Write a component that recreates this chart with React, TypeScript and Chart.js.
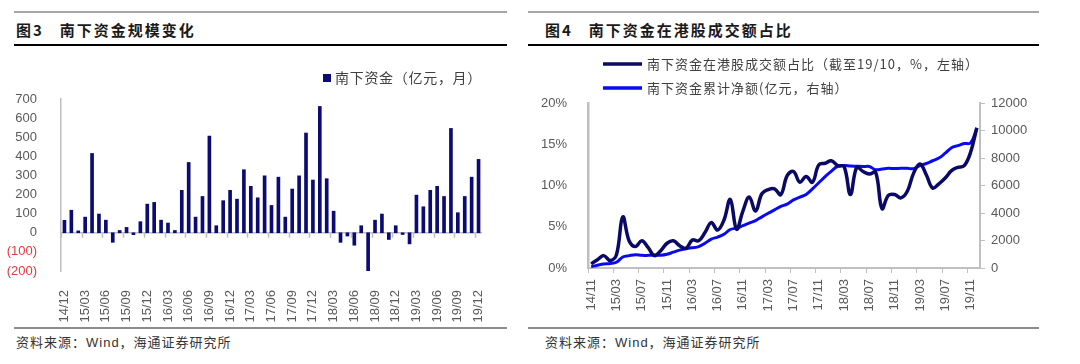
import React, { useEffect, useRef } from 'react';
import { Chart, registerables } from 'chart.js';

Chart.register(...registerables);

// ---------- data: left chart (monthly southbound flow, 亿元) ----------
const flowMonths = [
  '14/12', '15/01', '15/02', '15/03', '15/04', '15/05', '15/06', '15/07', '15/08', '15/09', '15/10', '15/11',
  '15/12', '16/01', '16/02', '16/03', '16/04', '16/05', '16/06', '16/07', '16/08', '16/09', '16/10', '16/11',
  '16/12', '17/01', '17/02', '17/03', '17/04', '17/05', '17/06', '17/07', '17/08', '17/09', '17/10', '17/11',
  '17/12', '18/01', '18/02', '18/03', '18/04', '18/05', '18/06', '18/07', '18/08', '18/09', '18/10', '18/11',
  '18/12', '19/01', '19/02', '19/03', '19/04', '19/05', '19/06', '19/07', '19/08', '19/09', '19/10', '19/11',
  '19/12',
];
const flowValues = [
  65, 118, 10, 82, 415, 98, 66, -50, 12, 28,
  -10, 58, 150, 159, 66, 51, 12, 222, 368, 82,
  190, 506, 37, 168, 222, 176, 330, 243, 183, 298,
  143, 291, 82, 229, 298, 522, 276, 661, 283, 113,
  -50, -17, -65, 37, -205, 66, 98, -35, 37, -9,
  -58, 197, 136, 222, 243, 190, 546, 105, 190, 291, 384,
];
const flowLabel = '南下资金（亿元，月）';

// ---------- data: right chart ----------
const shareMonths = [
  '14/11', '14/12', '15/01', '15/02', '15/03', '15/04', '15/05', '15/06', '15/07', '15/08', '15/09', '15/10',
  '15/11', '15/12', '16/01', '16/02', '16/03', '16/04', '16/05', '16/06', '16/07', '16/08', '16/09', '16/10',
  '16/11', '16/12', '17/01', '17/02', '17/03', '17/04', '17/05', '17/06', '17/07', '17/08', '17/09', '17/10',
  '17/11', '17/12', '18/01', '18/02', '18/03', '18/04', '18/05', '18/06', '18/07', '18/08', '18/09', '18/10',
  '18/11', '18/12', '19/01', '19/02', '19/03', '19/04', '19/05', '19/06', '19/07', '19/08', '19/09', '19/10',
  '19/11', '19/12',
];
// share of HK turnover, %
const shareValues = [
  0.5, 1.0, 1.5, 0.9, 1.6, 6.2, 3.3, 2.6, 3.3, 2.5,
  1.5, 2.1, 3.0, 3.3, 2.7, 2.4, 3.4, 3.3, 4.3, 5.5,
  4.6, 5.8, 8.3, 4.7, 6.9, 8.6, 6.9, 9.0, 9.5, 9.6,
  8.9, 11.2, 11.7, 10.4, 11.1, 10.4, 12.5, 12.7, 13.0, 12.4,
  12.3, 8.9, 12.2, 11.7, 11.4, 11.6, 7.2, 8.8, 8.9, 8.5,
  9.3, 11.5, 12.6, 11.3, 9.7, 10.2, 10.9, 11.8, 12.2, 12.4,
  14.0, 17.0,
];
// cumulative net southbound, 亿元
const cumValues = [
  100, 200, 290, 330, 420, 800, 900, 970, 920, 920,
  940, 930, 1000, 1150, 1300, 1400, 1480, 1550, 1800, 2100,
  2250, 2450, 2800, 2900, 3080, 3270, 3450, 3720, 3980, 4230,
  4480, 4650, 4950, 5150, 5350, 5750, 6200, 6650, 7050, 7400,
  7450, 7420, 7400, 7380, 7380, 7150, 7200, 7250, 7230, 7260,
  7250, 7220, 7450, 7600, 7800, 8000, 8350, 8750, 8900, 9050,
  9100, 10150,
];
const shareLabel = '南下资金在港股成交额占比（截至19/10，%，左轴）';
const cumLabel = '南下资金累计净额(亿元，右轴）';

// ---------- styles ----------
const NAVY = '#0B0B72';
const DARK_LINE = '#0A0A66';
const BLUE_LINE = '#0A0AEE';
const AXIS_GRAY = '#BFBFBF';
const TICK_TEXT = '#595959';
const NEG_RED = '#E2393A';
const LATIN = "'Liberation Sans', Arial, sans-serif";
const CJK = "'Noto Sans CJK SC', 'Noto Sans', sans-serif";

const tickFont = { family: LATIN, size: 13 };

function FlowChart() {
  const ref = useRef<HTMLCanvasElement>(null);
  useEffect(() => {
    const zeroLine = {
      id: 'zeroLine',
      beforeDatasetsDraw(chart: any) {
        const { ctx, chartArea, scales } = chart;
        const x = scales.x;
        const y = scales.y;
        const y0 = y.getPixelForValue(0);
        const w = x.getPixelForValue(1) - x.getPixelForValue(0);
        ctx.save();
        ctx.strokeStyle = AXIS_GRAY;
        ctx.lineWidth = 1.5;
        ctx.beginPath();
        ctx.moveTo(chartArea.left, y0);
        ctx.lineTo(chartArea.right, y0);
        for (let i = 0; i < flowMonths.length; i += 3) {
          const px = Math.round(x.getPixelForValue(i) - w / 2) + 0.5;
          ctx.moveTo(px, y0);
          ctx.lineTo(px, y0 + 5);
        }
        ctx.stroke();
        ctx.restore();
      },
    };
    const legend = {
      id: 'flowLegend',
      afterDraw(chart: any) {
        const { ctx, chartArea } = chart;
        const ds = chart.data.datasets[0];
        ctx.save();
        ctx.font = `14px ${CJK}`;
        (ctx as any).letterSpacing = '0.7px';
        ctx.textBaseline = 'middle';
        ctx.textAlign = 'right';
        const yy = chartArea.top - 21;
        const tx = chartArea.right;
        ctx.fillStyle = '#404040';
        ctx.fillText(ds.label, tx, yy);
        const tw = ctx.measureText(ds.label).width;
        ctx.fillStyle = ds.backgroundColor;
        ctx.fillRect(tx - tw - 12, yy - 4, 8, 8);
        ctx.restore();
      },
    };
    const chart = new Chart(ref.current!, {
      type: 'bar',
      data: {
        labels: flowMonths,
        datasets: [
          {
            label: flowLabel,
            data: flowValues,
            backgroundColor: NAVY,
            barThickness: 3,
          },
        ],
      },
      options: {
        responsive: false,
        animation: false,
        devicePixelRatio: 1,
        layout: { padding: { top: 49, right: 28, left: 0, bottom: 0 } },
        plugins: { legend: { display: false }, tooltip: { enabled: false } },
        scales: {
          x: {
            grid: { display: false },
            border: { display: false },
            ticks: {
              autoSkip: false,
              maxRotation: 90,
              minRotation: 90,
              padding: 11,
              color: TICK_TEXT,
              font: tickFont,
              callback: (_v: any, i: number) => (i % 3 === 0 ? flowMonths[i] : ''),
            },
            afterFit: (s: any) => {
              s.height = 54;
            },
          },
          y: {
            min: -200,
            max: 700,
            grid: { display: false },
            border: { display: true, color: AXIS_GRAY, width: 1.5 },
            ticks: {
              stepSize: 100,
              padding: 16,
              font: tickFont,
              color: (c: any) => (c.tick && c.tick.value < 0 ? NEG_RED : TICK_TEXT),
              callback: (v: any) => (Number(v) < 0 ? `(${-Number(v)})` : `${v}`),
            },
            afterFit: (s: any) => {
              s.width = 61;
            },
          },
        },
      },
      plugins: [zeroLine, legend],
    } as any);
    return () => chart.destroy();
  }, []);
  return (
    <canvas
      ref={ref}
      width={510}
      height={275}
      style={{ position: 'absolute', left: 0, top: 50, width: 510, height: 275 }}
    />
  );
}

function ShareChart() {
  const ref = useRef<HTMLCanvasElement>(null);
  useEffect(() => {
    const legend = {
      id: 'shareLegend',
      afterDraw(chart: any) {
        const { ctx } = chart;
        ctx.save();
        ctx.font = `13px ${CJK}`;
        (ctx as any).letterSpacing = '1px';
        ctx.textBaseline = 'middle';
        ctx.textAlign = 'left';
        chart.data.datasets.forEach((ds: any, i: number) => {
          const yy = 14 + 24 * i;
          ctx.strokeStyle = ds.borderColor;
          ctx.lineWidth = 3.5;
          ctx.beginPath();
          ctx.moveTo(88, yy);
          ctx.lineTo(127, yy);
          ctx.stroke();
          ctx.fillStyle = '#404040';
          ctx.fillText(ds.label, 132, yy);
        });
        ctx.restore();
      },
    };
    const chart = new Chart(ref.current!, {
      type: 'line',
      data: {
        labels: shareMonths,
        datasets: [
          {
            label: shareLabel,
            data: shareValues,
            borderColor: DARK_LINE,
            backgroundColor: DARK_LINE,
            borderWidth: 3.5,
            pointRadius: 0,
            tension: 0.4,
            yAxisID: 'y',
          },
          {
            label: cumLabel,
            data: cumValues,
            borderColor: BLUE_LINE,
            backgroundColor: BLUE_LINE,
            borderWidth: 3,
            pointRadius: 0,
            tension: 0.4,
            yAxisID: 'y1',
          },
        ],
      },
      options: {
        responsive: false,
        animation: false,
        devicePixelRatio: 1,
        layout: { padding: { top: 53, right: 0, left: 0, bottom: 0 } },
        plugins: { legend: { display: false }, tooltip: { enabled: false } },
        scales: {
          x: {
            offset: true,
            grid: {
              display: true,
              offset: true,
              drawOnChartArea: false,
              drawTicks: true,
              tickLength: 5,
              tickColor: (c: any) => (c.index % 4 === 0 ? AXIS_GRAY : 'rgba(0,0,0,0)'),
              color: 'rgba(0,0,0,0)',
            },
            border: { display: true, color: AXIS_GRAY, width: 2 },
            ticks: {
              autoSkip: false,
              maxRotation: 90,
              minRotation: 90,
              padding: 6,
              color: TICK_TEXT,
              font: tickFont,
              callback: (_v: any, i: number) => (i % 4 === 0 ? shareMonths[i] : ''),
            },
            afterFit: (s: any) => {
              s.height = 57;
            },
          },
          y: {
            position: 'left',
            min: 0,
            max: 20,
            grid: { display: false },
            border: { display: true, color: AXIS_GRAY, width: 2.5 },
            ticks: {
              stepSize: 5,
              padding: 13,
              color: TICK_TEXT,
              font: tickFont,
              callback: (v: any) => `${v}%`,
            },
            afterFit: (s: any) => {
              s.width = 73;
            },
          },
          y1: {
            position: 'right',
            min: 0,
            max: 12000,
            grid: {
              display: true,
              drawOnChartArea: false,
              drawTicks: true,
              tickLength: 5,
              color: AXIS_GRAY,
              tickColor: AXIS_GRAY,
            },
            border: { display: true, color: AXIS_GRAY, width: 2 },
            ticks: {
              stepSize: 2000,
              padding: 6,
              color: TICK_TEXT,
              font: tickFont,
              callback: (v: any) => String(v),
            },
            afterFit: (s: any) => {
              s.width = 60;
            },
          },
        },
      },
      plugins: [legend],
    } as any);
    return () => chart.destroy();
  }, []);
  return (
    <canvas
      ref={ref}
      width={525}
      height={275}
      style={{ position: 'absolute', left: 515, top: 50, width: 525, height: 275 }}
    />
  );
}

const hLine = (left: number, width: number, top: number, h: number, color: string) => (
  <div style={{ position: 'absolute', left, top, width, height: h, background: color }} />
);

const titleStyle: React.CSSProperties = {
  position: 'absolute',
  top: 20,
  height: 20,
  lineHeight: '20px',
  fontFamily: CJK,
  fontWeight: 700,
  fontSize: 15,
  letterSpacing: '2px',
  color: '#1A1A1A',
  whiteSpace: 'nowrap',
};

const sourceStyle: React.CSSProperties = {
  position: 'absolute',
  top: 334,
  height: 18,
  lineHeight: '18px',
  fontFamily: `${LATIN.split(',')[0]}, ${CJK}`,
  fontSize: 13,
  letterSpacing: '1px',
  color: '#333333',
  whiteSpace: 'nowrap',
};

export default function App() {
  return (
    <div
      style={{
        position: 'absolute',
        left: 0,
        top: 0,
        width: 1080,
        height: 364,
        background: '#FFFFFF',
        overflow: 'hidden',
      }}
    >
      {hLine(14, 493, 11, 2, '#A6A6A6')}
      {hLine(528, 511, 11, 2, '#A6A6A6')}
      <div style={{ ...titleStyle, left: 16 }}>
        图3<span style={{ marginLeft: 16 }}>南下资金规模变化</span>
      </div>
      <div style={{ ...titleStyle, left: 545 }}>
        图4<span style={{ marginLeft: 16 }}>南下资金在港股成交额占比</span>
      </div>
      {hLine(14, 493, 44, 1.5, '#000000')}
      {hLine(528, 511, 44, 1.5, '#000000')}
      <FlowChart />
      <ShareChart />
      {hLine(14, 493, 327, 2, '#8C8C8C')}
      {hLine(528, 511, 327, 2, '#8C8C8C')}
      <div style={{ ...sourceStyle, left: 16 }}>资料来源：Wind，海通证券研究所</div>
      <div style={{ ...sourceStyle, left: 545 }}>资料来源：Wind，海通证券研究所</div>
    </div>
  );
}
